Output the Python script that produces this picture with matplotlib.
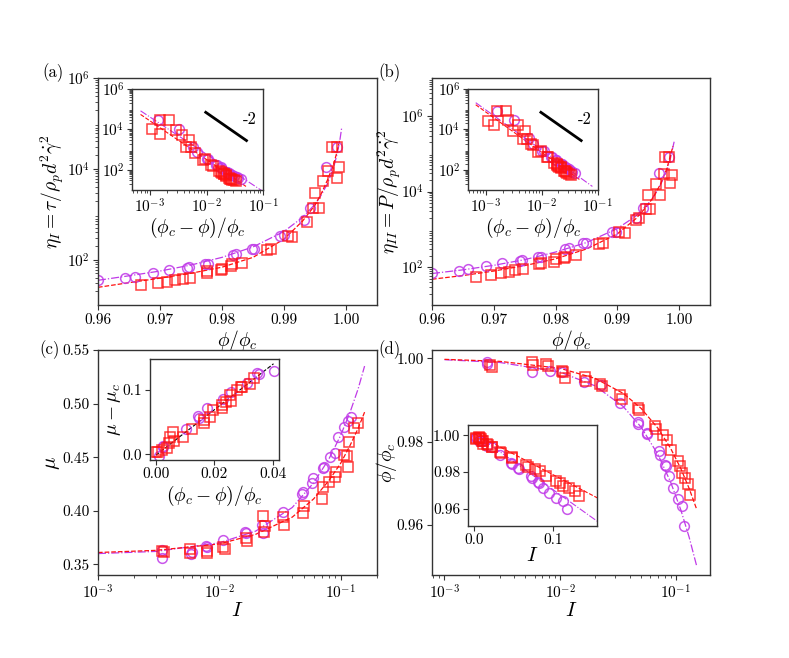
import numpy as np
import matplotlib
matplotlib.use('Agg')
import matplotlib.pyplot as plt
from matplotlib.ticker import LogLocator, NullFormatter

# ---------------- data ----------------
# (a) eta_I vs phi/phi_c
a_circ_phi = [0.9600, 0.9644, 0.9660, 0.9688, 0.9715, 0.9743, 0.9746, 0.9773, 0.9777, 0.9817,
              0.9822, 0.9848, 0.9852, 0.9894, 0.9900, 0.9933, 0.9942, 0.9968, 0.9986]
a_circ_eta = [35, 39, 42, 50, 58, 65, 68, 79, 81, 126,
              132, 170, 170, 339, 355, 741, 1380, 10700, 29500]
a_sq_phi = [0.9670, 0.9696, 0.9712, 0.9724, 0.9737, 0.9748, 0.9775, 0.9776, 0.9799, 0.9800,
            0.9815, 0.9816, 0.9833, 0.9872, 0.9879, 0.9906, 0.9913, 0.9937, 0.9947, 0.9956,
            0.9950, 0.9963, 0.9971, 0.9985, 0.9989, 0.9978, 0.9985]
a_sq_eta = [27.5, 30, 32, 35.5, 37, 40, 51, 55, 59, 63,
            72, 81, 85, 162, 170, 339, 309, 676, 1350, 1350,
            2880, 5500, 9100, 6170, 10700, 30900, 30900]
a_fit_phi = [0.960, 0.965, 0.970, 0.975, 0.980, 0.985, 0.990, 0.993, 0.995, 0.996, 0.997, 0.998, 0.9986, 0.9990, 0.9993]
a_fit_m = [35, 44, 56, 76, 112, 190, 417, 851, 1660, 2630, 4680, 10500, 22400, 41700, 79400]
a_fit_r_phi = [0.960, 0.965, 0.970, 0.975, 0.980, 0.985, 0.990, 0.993, 0.995, 0.996, 0.997, 0.998, 0.9986, 0.9990]
a_fit_r = [24.5, 31, 39, 50, 68, 112, 282, 708, 1580, 2820, 5620, 12600, 25100, 44700]
a_ins_m = ([6.8e-4, 0.1], [83000, 8.5])
a_ins_r = ([6.8e-4, 0.05], [55000, 15])

# (b) eta_II vs phi/phi_c
b_circ_phi = [0.9600, 0.9644, 0.9659, 0.9687, 0.9714, 0.9742, 0.9746, 0.9771, 0.9777, 0.9816,
              0.9822, 0.9844, 0.9850, 0.9891, 0.9898, 0.9930, 0.9941, 0.9968, 0.9984]
b_circ_eta = [69, 81, 89, 107, 126, 145, 158, 191, 191, 295,
              316, 427, 427, 871, 871, 1950, 3630, 30200, 81300]
b_sq_phi = [0.9671, 0.9696, 0.9712, 0.9724, 0.9735, 0.9747, 0.9774, 0.9776, 0.9798, 0.9800,
            0.9813, 0.9815, 0.9833, 0.9871, 0.9877, 0.9903, 0.9913, 0.9930, 0.9935, 0.9946,
            0.9953, 0.9950, 0.9962, 0.9969, 0.9975, 0.9989, 0.9986, 0.9977, 0.9984]
b_sq_eta = [56, 62, 71, 76, 85, 87, 120, 132, 141, 162,
            174, 191, 209, 407, 427, 871, 794, 1780, 1950, 3390,
            3390, 8130, 15800, 8130, 29500, 27500, 16600, 83200, 83200]
b_fit_phi = [0.960, 0.965, 0.970, 0.975, 0.980, 0.985, 0.990, 0.993, 0.995, 0.996, 0.997, 0.998, 0.9986, 0.9992]
b_fit_m = [68, 85, 112, 158, 251, 447, 1050, 2240, 4790, 7940, 15100, 35500, 75900, 209000]
b_fit_r_phi = [0.960, 0.965, 0.970, 0.975, 0.980, 0.985, 0.990, 0.993, 0.995, 0.996, 0.997, 0.998, 0.9986, 0.9990]
b_fit_r = [48, 60, 79, 110, 166, 302, 759, 1910, 4470, 7940, 15800, 39800, 89100, 158000]
b_ins_m = ([6.6e-4, 0.081], [210000, 15])
b_ins_r = ([6.6e-4, 0.05], [166000, 30])

# (c) mu vs I
c_circ_I = [3.36e-3, 3.4e-3, 5.9e-3, 6.0e-3, 7.8e-3, 7.9e-3, 0.0107, 0.0163, 0.0165, 0.0224,
            0.0230, 0.0334, 0.0479, 0.0495, 0.0578, 0.0595, 0.0721, 0.0735, 0.0820, 0.0902,
            0.0961, 0.106, 0.116, 0.122]
c_circ_mu = [0.3556, 0.3633, 0.3596, 0.3618, 0.3671, 0.3660, 0.3727, 0.3804, 0.3788, 0.3867,
             0.3789, 0.3991, 0.4153, 0.4178, 0.4256, 0.4302, 0.4396, 0.4411, 0.4504, 0.4541,
             0.4685, 0.4784, 0.4840, 0.4872]
c_sq_I = [3.4e-3, 3.5e-3, 5.7e-3, 5.75e-3, 7.9e-3, 8.0e-3, 0.0108, 0.0111, 0.0166, 0.0168,
          0.0229, 0.0239, 0.0236, 0.0337, 0.0340, 0.0496, 0.0490, 0.0702, 0.0715, 0.0797,
          0.0902, 0.0920, 0.106, 0.114, 0.115, 0.118, 0.129, 0.140]
c_sq_mu = [0.3627, 0.3618, 0.3640, 0.3608, 0.3627, 0.3608, 0.3658, 0.3640, 0.3742, 0.3720,
           0.3951, 0.3857, 0.3800, 0.3944, 0.3870, 0.4044, 0.3980, 0.4107, 0.4224, 0.4271,
           0.4317, 0.4364, 0.4520, 0.4510, 0.4410, 0.4644, 0.4769, 0.4816]
c_fit_I = [1e-3, 3e-3, 1e-2, 2e-2, 4e-2, 6e-2, 8e-2, 0.1, 0.12, 0.14, 0.158]
c_fit_m = [0.360, 0.362, 0.370, 0.381, 0.403, 0.426, 0.448, 0.470, 0.492, 0.514, 0.535]
c_fit_r = [0.361, 0.363, 0.369, 0.378, 0.394, 0.411, 0.428, 0.444, 0.461, 0.477, 0.492]
# inset (c): mu - mu_c vs (phi_c - phi)/phi_c
ci_circ_x = [0.0011, 0.0023, 0.0026, 0.0104, 0.0146, 0.0148, 0.0175, 0.0231, 0.0258, 0.0311,
             0.0348, 0.0352, 0.0406]
ci_circ_y = [-0.003, 0.0114, 0.0130, 0.0385, 0.0594, 0.0560, 0.0714, 0.0854, 0.0974, 0.1104,
             0.1260, 0.1250, 0.1286]
ci_sq_x = [0.0000, 0.0006, 0.0020, 0.0038, 0.0046, 0.0048, 0.0060, 0.0061, 0.0092, 0.0124,
           0.0164, 0.0165, 0.0187, 0.0196, 0.0227, 0.0228, 0.0239, 0.0254, 0.0256, 0.0277,
           0.0293, 0.0296, 0.0323, 0.0337]
ci_sq_y = [0.0036, 0.0036, 0.0063, 0.0104, 0.0167, 0.0260, 0.0349, 0.0208, 0.0270, 0.0385,
           0.0480, 0.0531, 0.0583, 0.0688, 0.0714, 0.0766, 0.0818, 0.0922, 0.0833, 0.1000,
           0.1042, 0.1052, 0.1089, 0.1182]
ci_fit = ([0.0, 0.0403], [-0.0016, 0.1406])

# (d) phi/phi_c vs I
d_circ_I = [2.32e-3, 2.33e-3, 5.68e-3, 8.17e-3, 0.0103, 0.0161, 0.0224, 0.0329, 0.0467, 0.0472,
            0.0558, 0.0565, 0.0718, 0.0728, 0.0803, 0.0815, 0.0875, 0.0948, 0.1033, 0.112, 0.117]
d_circ_phi = [0.99903, 0.99863, 0.99678, 0.99702, 0.99678, 0.99421, 0.99356, 0.98922, 0.98471, 0.98415,
              0.98213, 0.98173, 0.97771, 0.97690, 0.97449, 0.97425, 0.97167, 0.96885, 0.96620, 0.96459, 0.95984]
d_sq_I = [2.48e-3, 2.56e-3, 5.68e-3, 5.80e-3, 7.6e-3, 7.9e-3, 0.0103, 0.0106, 0.0110, 0.0164,
          0.0168, 0.0221, 0.0228, 0.0329, 0.0340, 0.0473, 0.0483, 0.0659, 0.0676, 0.0768,
          0.0831, 0.0906, 0.1033, 0.1083, 0.1120, 0.1196, 0.128, 0.132]
d_sq_phi = [0.99839, 0.99783, 0.99920, 0.99839, 0.99863, 0.99807, 0.99702, 0.99662, 0.99517, 0.99541,
            0.99461, 0.99380, 0.99340, 0.99115, 0.99018, 0.98817, 0.98760, 0.98374, 0.98294, 0.98149,
            0.98036, 0.97795, 0.97529, 0.97409, 0.97248, 0.97127, 0.96990, 0.96709]
d_fit_I = [1e-3, 3e-3, 1e-2, 2e-2, 3.5e-2, 5e-2, 7e-2, 9e-2, 0.11, 0.13, 0.151]
d_fit_r = [0.99976, 0.99928, 0.9976, 0.9952, 0.9916, 0.9880, 0.9832, 0.9784, 0.9736, 0.9688, 0.9638]
d_fit_m = [0.99967, 0.99901, 0.9967, 0.9934, 0.98845, 0.9835, 0.9769, 0.9703, 0.9637, 0.9571, 0.9502]
di_fit_r = ([0.0, 0.156], [1.0009, 0.966])
di_fit_m = ([0.0, 0.156], [1.0009, 0.9533])

slope_x = [0.0097, 0.051]
slope_y = [70000, 2800]

MAG = '#c03ae8'
RED = '#ff1010'


def style(ax, fs=11, pad=2.5):
    for s in ax.spines.values():
        s.set_color('#333333')
        s.set_linewidth(1.0)
    ax.tick_params(which='major', direction='out', length=3.5, width=0.8, labelsize=fs,
                   color='#333333', pad=pad)
    ax.tick_params(which='minor', direction='out', length=2, width=0.6, color='#333333')


def logminor(axis):
    axis.set_minor_locator(LogLocator(base=10, subs=np.arange(2, 10), numticks=100))
    axis.set_minor_formatter(NullFormatter())


def markers(ax, x1, y1, x2, y2, ms=7):
    ax.plot(x1, y1, 'o', ms=ms, mfc='none', mec=MAG, mew=1.1, alpha=0.85)
    ax.plot(x2, y2, 's', ms=ms, mfc='none', mec=RED, mew=1.1, alpha=0.8)


def main():
    plt.rcParams['font.family'] = 'serif'
    plt.rcParams['font.serif'] = ['cmr10', 'DejaVu Serif']
    plt.rcParams['mathtext.fontset'] = 'cm'
    plt.rcParams['axes.formatter.use_mathtext'] = True

    fig = plt.figure(figsize=(7.89, 6.58), dpi=100)
    W, H = 789.0, 658.0

    def box(l, t, r, b):
        return [l / W, 1 - b / H, (r - l) / W, (b - t) / H]

    ax_a = fig.add_axes(box(98, 78, 377, 305))
    ax_b = fig.add_axes(box(432, 78, 710, 305))
    ax_c = fig.add_axes(box(98, 350, 377, 575))
    ax_d = fig.add_axes(box(432, 350, 710, 575))
    in_a = fig.add_axes(box(132, 89, 263, 190))
    in_b = fig.add_axes(box(468, 89, 597.5, 190))
    in_c = fig.add_axes(box(150, 359, 278.5, 460))
    in_d = fig.add_axes(box(467.7, 425, 597.3, 525.7))

    # ---- (a) ----
    ax = ax_a
    ax.plot(a_fit_phi, a_fit_m, '-.', color=MAG, lw=0.9)
    ax.plot(a_fit_r_phi, a_fit_r, '--', color=RED, lw=0.9)
    markers(ax, a_circ_phi, a_circ_eta, a_sq_phi, a_sq_eta)
    ax.set_yscale('log')
    ax.set_xlim(0.96, 1.005)
    ax.set_ylim(10, 1e6)
    ax.set_yticks([1e2, 1e4, 1e6])
    logminor(ax.yaxis)
    ax.set_xticks([0.96, 0.97, 0.98, 0.99, 1.00])
    ax.set_xticklabels(['0.96', '0.97', '0.98', '0.99', '1.00'])
    ax.set_xlabel(r'$\phi/\phi_c$', fontsize=14)
    ax.set_ylabel(r'$\eta_I = \tau/\rho_p d^2\dot{\gamma}^2$', fontsize=14)
    ax.xaxis.set_label_coords(0.5, -0.10)
    ax.yaxis.set_label_coords(-0.115, 0.5)
    style(ax)

    # ---- (b) ----
    ax = ax_b
    ax.plot(b_fit_phi, b_fit_m, '-.', color=MAG, lw=0.9)
    ax.plot(b_fit_r_phi, b_fit_r, '--', color=RED, lw=0.9)
    markers(ax, b_circ_phi, b_circ_eta, b_sq_phi, b_sq_eta)
    ax.set_yscale('log')
    ax.set_xlim(0.96, 1.005)
    ax.set_ylim(10, 1e7)
    ax.set_yticks([1e2, 1e4, 1e6])
    logminor(ax.yaxis)
    ax.set_xticks([0.96, 0.97, 0.98, 0.99, 1.00])
    ax.set_xticklabels(['0.96', '0.97', '0.98', '0.99', '1.00'])
    ax.set_xlabel(r'$\phi/\phi_c$', fontsize=14)
    ax.set_ylabel(r'$\eta_{II} = P/\rho_p d^2\dot{\gamma}^2$', fontsize=14)
    ax.xaxis.set_label_coords(0.5, -0.10)
    ax.yaxis.set_label_coords(-0.105, 0.5)
    style(ax)

    # ---- insets (a), (b) ----
    for ax, cx, cy, sx, sy, fm, fr in [
            (in_a, a_circ_phi, a_circ_eta, a_sq_phi, a_sq_eta, a_ins_m, a_ins_r),
            (in_b, b_circ_phi, b_circ_eta, b_sq_phi, b_sq_eta, b_ins_m, b_ins_r)]:
        ax.plot(fm[0], fm[1], '-.', color=MAG, lw=0.8)
        ax.plot(fr[0], fr[1], '--', color=RED, lw=0.8)
        markers(ax, 1 - np.array(cx), cy, 1 - np.array(sx), sy)
        ax.plot(slope_x, slope_y, '-', color='black', lw=2)
        ax.text(0.044, 1.8e4, '-2', fontsize=12)
        ax.set_xscale('log')
        ax.set_yscale('log')
        ax.set_xlim(4.8e-4, 0.1)
        ax.set_ylim(10, 1e6)
        ax.set_xticks([1e-3, 1e-2, 1e-1])
        ax.set_yticks([1e2, 1e4, 1e6])
        logminor(ax.xaxis)
        logminor(ax.yaxis)
        ax.set_xlabel(r'$(\phi_c - \phi)/\phi_c$', fontsize=14)
        ax.xaxis.set_label_coords(0.5, -0.255)
        style(ax, pad=2)

    # ---- (c) ----
    ax = ax_c
    ax.plot(c_fit_I, c_fit_m, '-.', color=MAG, lw=0.9)
    ax.plot(c_fit_I, c_fit_r, '--', color=RED, lw=0.9)
    markers(ax, c_circ_I, c_circ_mu, c_sq_I, c_sq_mu)
    ax.set_xscale('log')
    ax.set_xlim(1e-3, 0.2)
    ax.set_ylim(0.34, 0.55)
    ax.set_xticks([1e-3, 1e-2, 1e-1])
    logminor(ax.xaxis)
    ax.set_yticks([0.35, 0.40, 0.45, 0.50, 0.55])
    ax.set_yticklabels(['0.35', '0.40', '0.45', '0.50', '0.55'])
    ax.set_xlabel(r'$I$', fontsize=15)
    ax.set_ylabel(r'$\mu$', fontsize=15)
    ax.xaxis.set_label_coords(0.5, -0.118)
    ax.yaxis.set_label_coords(-0.13, 0.5)
    style(ax)

    ax = in_c
    ax.plot(ci_fit[0], ci_fit[1], '--', color='black', lw=0.8)
    markers(ax, ci_circ_x, ci_circ_y, ci_sq_x, ci_sq_y)
    ax.set_xlim(-0.002, 0.042)
    ax.set_ylim(-0.009, 0.148)
    ax.set_xticks([0.0, 0.02, 0.04])
    ax.set_xticklabels(['0.00', '0.02', '0.04'])
    ax.set_yticks([0.0, 0.1])
    ax.set_yticklabels(['0.0', '0.1'])
    ax.set_xlabel(r'$(\phi_c - \phi)/\phi_c$', fontsize=14)
    ax.set_ylabel(r'$\mu - \mu_c$', fontsize=14)
    ax.xaxis.set_label_coords(0.5, -0.24)
    ax.yaxis.set_label_coords(-0.21, 0.5)
    style(ax, pad=2)

    # ---- (d) ----
    ax = ax_d
    ax.plot(d_fit_I, d_fit_m, '-.', color=MAG, lw=0.9)
    ax.plot(d_fit_I, d_fit_r, '--', color=RED, lw=0.9)
    markers(ax, d_circ_I, d_circ_phi, d_sq_I, d_sq_phi)
    ax.set_xscale('log')
    ax.set_xlim(7.8e-4, 0.197)
    ax.set_ylim(0.948, 1.002)
    ax.set_xticks([1e-3, 1e-2, 1e-1])
    logminor(ax.xaxis)
    ax.set_yticks([0.96, 0.98, 1.00])
    ax.set_yticklabels(['0.96', '0.98', '1.00'])
    ax.set_xlabel(r'$I$', fontsize=15)
    ax.set_ylabel(r'$\phi/\phi_c$', fontsize=14)
    ax.xaxis.set_label_coords(0.5, -0.118)
    ax.yaxis.set_label_coords(-0.12, 0.5)
    style(ax)

    ax = in_d
    ax.plot(di_fit_m[0], di_fit_m[1], '-.', color=MAG, lw=0.8)
    ax.plot(di_fit_r[0], di_fit_r[1], '--', color=RED, lw=0.8)
    markers(ax, d_circ_I, d_circ_phi, d_sq_I, d_sq_phi)
    ax.set_xlim(-0.0084, 0.1557)
    ax.set_ylim(0.951, 1.0055)
    ax.set_xticks([0.0, 0.1])
    ax.set_xticklabels(['0.0', '0.1'])
    ax.set_yticks([0.96, 0.98, 1.00])
    ax.set_yticklabels(['0.96', '0.98', '1.00'])
    ax.set_xlabel(r'$I$', fontsize=15)
    ax.xaxis.set_label_coords(0.5, -0.21)
    style(ax, pad=2)

    # panel labels
    for lab, x, y in [('(a)', 53, 73), ('(b)', 390, 73), ('(c)', 50, 350), ('(d)', 390, 350)]:
        fig.text(x / W, 1 - y / H, lab, fontsize=12, ha='center', va='center')

    fig.savefig('out.png', dpi=100)


if __name__ == '__main__':
    main()
